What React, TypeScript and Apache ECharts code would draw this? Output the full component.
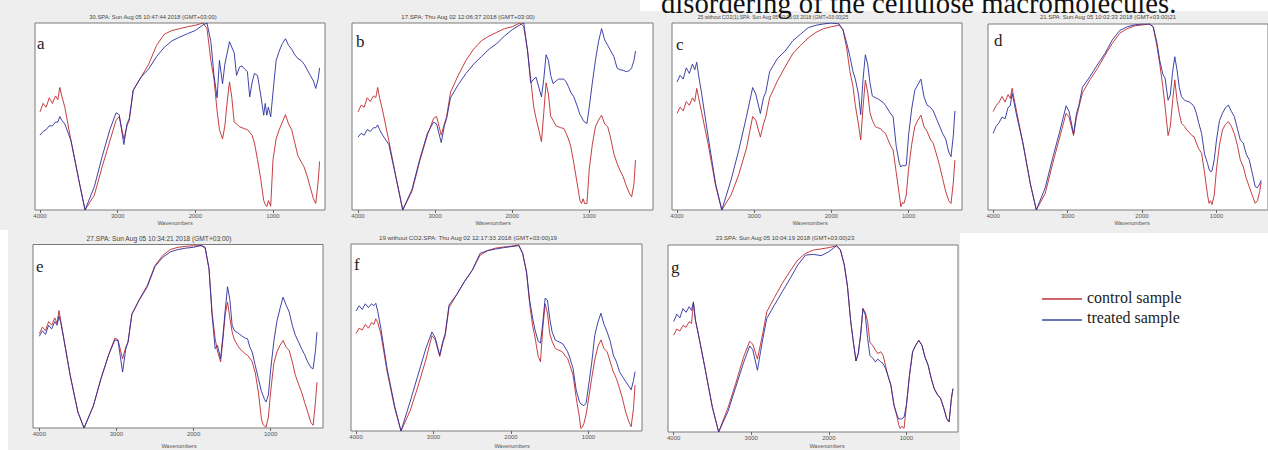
import React, { useEffect, useRef } from "react";
import * as echarts from "echarts";

// Wavenumbers (cm-1) shared by every spectrum
const WAVENUMBERS = [4000,3960,3920,3880,3840,3800,3770,3745,3720,3680,3600,3500,3420,3300,3200,3100,3020,2980,2920,2880,2850,2800,2700,2600,2500,2400,2300,2200,2100,2000,1900,1850,1800,1760,1720,1690,1650,1620,1590,1560,1530,1500,1470,1430,1400,1370,1330,1300,1270,1240,1200,1160,1120,1100,1080,1060,1030,1000,960,920,880,840,800,760,720,680,640,600,560,520,480,450,420,400];

const X_TICKS = [4000, 3000, 2000, 1000];
const PANEL_LETTERS = ["a", "b", "c", "d", "e", "f", "g"];
const PANEL_TITLES = [
  "30.SPA: Sun Aug 05 10:47:44 2018 (GMT+03:00)",
  "17.SPA: Thu Aug 02 12:06:37 2018 (GMT+03:00)",
  "25 without CO2(1).SPA: Sun Aug 05 10:15:03 2018 (GMT+03:00)25",
  "21.SPA: Sun Aug 05 10:02:33 2018 (GMT+03:00)21",
  "27.SPA: Sun Aug 05 10:34:21 2018 (GMT+03:00)",
  "19 without CO2.SPA: Thu Aug 02 12:17:33 2018 (GMT+03:00)19",
  "23.SPA: Sun Aug 05 10:04:19 2018 (GMT+03:00)23",
];
const X_NAME = "Wavenumbers";
const SERIES_NAMES = ["control sample", "treated sample"];
const HEADING = "disordering of the cellulose macromolecules.";

// relative transmittance (% of plot height)
const controlA = [52.5,57,55,60,57,61,59,65.5,61,55,37,16,0,8,23,37,48,50,38,45,48,64,71,78,88,94,96,97,98,98.8,100,97,80,70,53,43,38,45,58,68.5,60,47,46,44.5,44,43.5,43,41.5,40,36,27,17,5,3,1.8,5,2,27,38,43,47,51,46,43,36,29,26,23,18,12,6,3.5,15,26];
const treatedA = [40,42,43,45,45,47,47,50,48,46,37,16,0,12.5,28.5,43,52,51,35,46,49,64,71,75.5,82,87,90.5,92.5,94.3,96,99,100,90,72,60,80,67.5,78,84,90,87,84,72,76.5,77,75.5,74,60.5,68,73,72,62,50.7,57,50.7,55,49.8,63,80,85,89,91.6,88,86,83,81,80,78,75,72,69,65,70,76];

const controlB = [52.5,56,55,60,58,61,60,65.5,60,53,37,16,0,10,26,40,49,50,40,46,50,63,72,80,86,90.5,93,95,97,98,100,98,85,70,55,49,42,36.5,52,68,62,50,48,45,44.5,44,43.6,41,38,34,25,15,5,3.5,6,3.5,3.5,22,35,44.5,48,50.7,46,44.5,38,30,25,21,17.8,13,9,7,14,26.7];
const treatedB = [39,41,40,43,42,44,44,45.5,43,40,35,16,0,11,27,41,47,46,36,45,49,60,67,73,78,82,86,89,93,96.4,99,100,85,68,70,71,65,60.5,70,83,80,72,67.6,69,70,70,70,68.5,66,63,60.5,56,51,49.8,48,47,46.3,55,68,80,90,97,91,88,85,82,76,75,74.7,74,74.5,76,80,85];

const controlC = [51.6,55,53,58,56,60,58,65,60,52,36,13,0,8,19,33,50,48,39,46,49.8,60,69,76.5,83.6,88,92,95,97,98,98.8,96.4,86,74,66,56,46,37.4,55,69.4,63,52,48,44.5,44,43.6,42,41,38,35,32,20,8,1.8,4,3.5,8,22,35,44.5,48,50.7,44.5,42,38,35.6,30,24,17,10,5,3.5,15,26.7];
const treatedC = [68.5,72,70,76,73,78,75,79,72,62,40,14,0,16,32,50,65.5,62,51.6,60,63,74,81,85,90.5,94,97.5,98.8,99.5,100,99.5,96.4,89,82,74,70,62,51,70,83,78,68,61,60,59.5,58.7,57.5,56,54,52,49.8,34,25,23,24,23.5,24,40,54,64,67,70,60.5,56,55,53,49,45,41,38,31,28.5,40,53];

const controlD = [52.9,56,58,61,58,62,60,65.4,60,52,36,14,0,9,25,40,52,50,40,50,55,63,70,76,83,89.6,95,97.5,99,99.5,100,98.5,88,78,66,55.5,40,45,58,70,59,52,46.6,45,43,42,40,39.4,36,33,30.5,20,8,3.6,5,3,8,22,35,43,46,47.5,45,41,35,27,23.3,17,12.5,8,3.6,5,10,15];
const treatedD = [41.2,45,47,50,49,55,56,62.7,58,50,36,14,0,12,28,43,56,53,41,52,56,66,71.7,78,84,91.4,96.5,98.5,99.5,100,100,98.5,90,80,73,70.8,59,62,74,82.4,75.3,66,61,59,58.5,58.2,57,55.5,52,47,41.2,30,25,22,20.6,21,27,37.6,48,52,55,56.4,53,50.2,44,37.6,36,30,27,20,12.5,12,14,16];

const controlE = [51.4,55,53,58,56,60,57,64,58,48,28.7,8.7,0,12,27,40,49,48,37.7,44,46.8,62,70.4,77.7,88.6,94,97.3,98.5,99,99.3,99.3,98,86.8,63,48.6,42,36,48,62,68.6,60,52.3,48,45,43.2,42,40.5,39.6,38,36,30,19.6,5,2,1,0.5,6,20,35,41.4,45,47.7,44,42.3,36,28.7,24,19.6,14,8.7,3,1.5,14,25];
const treatedE = [50,53,51,56,54,58,56,61,57,48,28.7,8.7,0,12,27,40,48,47.7,30.5,43,46.8,62,70,77,88,93,96,97.3,98,98.5,99.5,98.5,86.8,61.3,43.2,45,37.7,50,64,77,70,56,53,52,51,50,49,48.6,44,41.4,34,26.9,20,17.8,15.5,14.2,18,32,47,58,65,71.3,67,63.2,56,50.5,47,43.2,40,36,33,32.3,42,52.3];

const controlF = [52.2,55,54,57,55,58,57,60,58,52,32,12,0,11,24,38,51,49,39.8,47,51,66,73,80,86,94,96.5,97.8,98.4,98.8,99.5,95,85,68,56,50,40,37,55,68,63,52,48,44.2,43.5,43,42,40,38.9,35,30,18,8,1.4,2,4,9,17,28,38,45,48.7,44,42.4,37,31.7,28,22.8,17,10,5,2.3,12,24.6];
const treatedF = [64.2,67,65,68,66,68,67,68.3,64,55,33.5,13,0,16,30,44,53,50,40.6,48,52,67.4,73,80,86,95,96.5,97.3,98,98.6,99.1,95,85,70,60,54,48,47,58,71,70,60,53,48.7,48,47.5,46.5,44.5,42.4,39,33.5,22,16,14.5,14,13.5,15,24,36,51,58,63,57,53,48,40.6,37,31.7,29,26.4,24,22,27,31.7];

const controlG = [51.8,55,54,57,56,59,58,69,60,52,35,13,0,13,26,40,48.5,47,39,47,53,64.3,72,79.5,86,92,95.5,97.3,97.9,98.6,99.6,97.3,89.3,78,60,50,38,42,52,66,64,59,48,46,43.8,42,42.9,41,35.7,30.4,25,14.3,8,4,1.8,3,2,14.3,30.4,42.9,46.4,49,46.4,40,35.7,28.6,23,20,18,13,7.1,5.4,17.9,23.2];
const treatedG = [59,63,61,66,64,67,65,69.6,60,52,35,13,0,11,24,37,46,44,33,43,50,60.7,68,75,82,89.3,94.6,95,94.3,96.4,99.6,97.3,89.3,78,60,50,38,42,52,66,62.5,50,41,39.3,37.5,39,37.5,36.6,34,30.4,25,14.3,9,7,7,7,8,14.3,30.4,42.9,46.4,49,46.4,40,35.7,28.6,23,20,18,13,7.1,5.4,17.9,23.2];

const CONTROL = [controlA, controlB, controlC, controlD, controlE, controlF, controlG];
const TREATED = [treatedA, treatedB, treatedC, treatedD, treatedE, treatedF, treatedG];

// layout (pixels) and axis extents per panel
const PANELS = [
  { left: 35, top: 23, width: 290, height: 187, xmin: 331, xmax: 4064, title: [153, 16.5, 5.8], letter: [37, 43], xname: [175, 223] },
  { left: 352, top: 23, width: 301, height: 187, xmin: 173, xmax: 4078, title: [468, 16.5, 6.1], letter: [356, 41], xname: [493, 223] },
  { left: 672, top: 23, width: 290, height: 187, xmin: 308, xmax: 4065, title: [773, 16.5, 5.0], letter: [676, 44], xname: [810, 223] },
  { left: 988, top: 24, width: 290, height: 186, xmin: 308, xmax: 4069, title: [1108, 16.5, 5.9], letter: [994, 40], xname: [1132, 223] },
  { left: 33, top: 244.5, width: 290, height: 183.5, xmin: 322, xmax: 4082, title: [159, 238, 6.6], letter: [36, 266], xname: [179, 446] },
  { left: 351, top: 244, width: 291, height: 187, xmin: 310, xmax: 4065, title: [468, 237, 6.2], letter: [354, 264], xname: [512, 446] },
  { left: 668, top: 245, width: 290, height: 187, xmin: 335, xmax: 4073, title: [785, 238, 6.0], letter: [671, 267], xname: [827, 446] },
];

const RED = "#c0282c";
const BLUE = "#2b2f9e";

export default function App() {
  const ref = useRef<HTMLDivElement>(null);
  useEffect(() => {
    if (!ref.current) return;
    const chart = echarts.init(ref.current, undefined, { renderer: "svg" });
    const sans = "Liberation Sans";
    const serif = "Liberation Serif";

    const grid = PANELS.map((p) => ({
      left: p.left, top: p.top, width: p.width, height: p.height,
      show: true, backgroundColor: "#ffffff", borderColor: "#7a7a7a", borderWidth: 1,
    }));
    const xAxis = PANELS.map((p, i) => ({
      type: "value", gridIndex: i, inverse: true, min: p.xmin, max: p.xmax,
      axisLine: { show: false }, splitLine: { show: false },
      axisTick: { show: true, customValues: X_TICKS, length: 3, lineStyle: { color: "#666", width: 1 } },
      axisLabel: {
        show: true, customValues: X_TICKS, fontSize: 6, color: "#555", margin: 3, fontFamily: sans,
        formatter: (v: number) => String(v),
      },
    }));
    const yAxis = PANELS.map((_p, i) => ({ type: "value", gridIndex: i, min: 0, max: 100, show: false }));

    const series: any[] = [];
    PANELS.forEach((_p, i) => {
      [CONTROL[i], TREATED[i]].forEach((vals, k) => {
        series.push({
          type: "line", name: SERIES_NAMES[k], xAxisIndex: i, yAxisIndex: i,
          showSymbol: false, symbol: "none", silent: true,
          lineStyle: { width: 0.9, color: k === 0 ? RED : BLUE },
          itemStyle: { color: k === 0 ? RED : BLUE },
          data: WAVENUMBERS.map((w, j) => [w, vals[j]]),
        });
      });
    });

    const graphic: any[] = [
      { type: "rect", silent: true, z: -10, shape: { x: 640, y: 0, width: 640, height: 11 }, style: { fill: "#ffffff" } },
      { type: "rect", silent: true, z: -10, shape: { x: 960, y: 233, width: 320, height: 220 }, style: { fill: "#ffffff" } },
      { type: "rect", silent: true, z: -10, shape: { x: 0, y: 230, width: 8, height: 220 }, style: { fill: "#ffffff" } },
      { type: "text", x: 661, y: 2.5, style: { text: HEADING, font: `28.7px "${serif}"`, fill: "#111", textVerticalAlign: "middle" } },
      { type: "line", shape: { x1: 1042, y1: 299, x2: 1082, y2: 299 }, style: { stroke: "#c0303a", lineWidth: 1.5 } },
      { type: "line", shape: { x1: 1042, y1: 320, x2: 1082, y2: 320 }, style: { stroke: "#3a48a0", lineWidth: 1.5 } },
      { type: "text", x: 1087, y: 297, style: { text: SERIES_NAMES[0], font: `16px "${serif}"`, fill: "#222", textVerticalAlign: "middle" } },
      { type: "text", x: 1087, y: 317, style: { text: SERIES_NAMES[1], font: `16px "${serif}"`, fill: "#222", textVerticalAlign: "middle" } },
    ];
    PANELS.forEach((p, i) => {
      graphic.push({ type: "text", x: p.title[0], y: p.title[1], style: { text: PANEL_TITLES[i], font: `${p.title[2]}px "${sans}"`, fill: "#444", textAlign: "center", textVerticalAlign: "middle" } });
      graphic.push({ type: "text", x: p.letter[0], y: p.letter[1], z: 10, style: { text: PANEL_LETTERS[i], font: `17px "${serif}"`, fill: "#222", textVerticalAlign: "middle" } });
      graphic.push({ type: "text", x: p.xname[0], y: p.xname[1], style: { text: X_NAME, font: `5.5px "${sans}"`, fill: "#555", textAlign: "center", textVerticalAlign: "middle" } });
    });

    chart.setOption({
      animation: false,
      backgroundColor: "#eeeeee",
      grid, xAxis, yAxis, series, graphic,
    });
    return () => chart.dispose();
  }, []);
  return <div ref={ref} style={{ position: "fixed", left: 0, top: 0, width: 1268, height: 450 }} />;
}
